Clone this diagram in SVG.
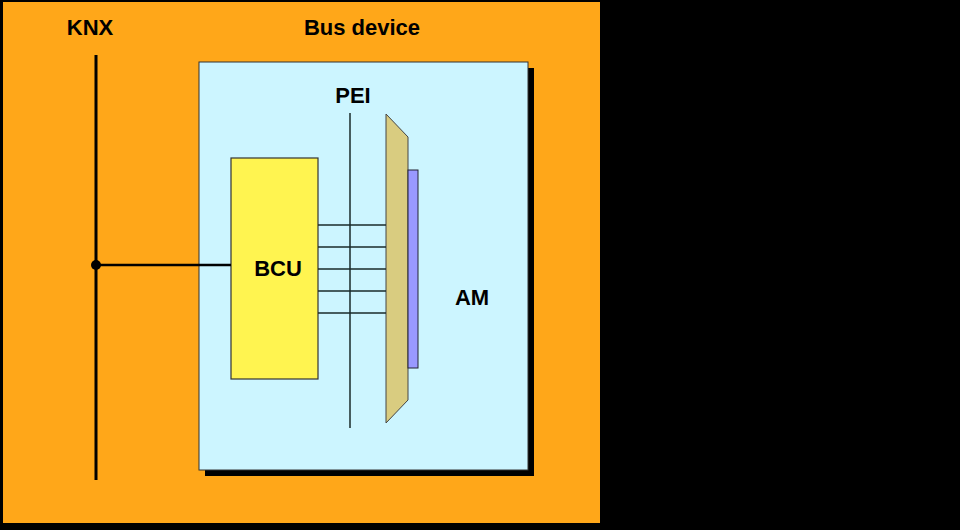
<svg xmlns="http://www.w3.org/2000/svg" width="960" height="530" viewBox="0 0 960 530">
<style>
text{font-family:"Liberation Sans",Arial,sans-serif;font-weight:bold;font-size:22px;fill:#000}
.ln{stroke:#1a2a2a;stroke-width:1.5;fill:none}
</style>
<rect width="960" height="530" fill="#000"/>
<rect x="3" y="2" width="597" height="521" fill="#FFA719"/>
<text x="90" y="35" text-anchor="middle">KNX</text>
<text x="362" y="35" text-anchor="middle">Bus device</text>
<g id="device">
<rect x="205" y="68" width="329" height="408" fill="#000"/>
<rect x="199" y="62" width="329" height="408" fill="#CCF5FF" stroke="#333" stroke-width="1"/>
</g>
<g id="knx"><line x1="96" y1="55" x2="96" y2="480" stroke="#000" stroke-width="3"/></g>
<g id="pei">
<line x1="350" y1="113" x2="350" y2="428" class="ln"/>
<text x="353" y="103" text-anchor="middle">PEI</text>
</g>
<g id="bcu">
<rect x="231" y="158" width="87" height="221" fill="#FFF450" stroke="#333" stroke-width="1.2"/>
<text x="278" y="276" text-anchor="middle">BCU</text>
</g>
<g id="am">
<polygon points="386,114 408,137 408,400 386,423" fill="#D9CC80" stroke="#444" stroke-width="1"/>
<rect x="408" y="170" width="10" height="198" fill="#9999FF" stroke="#223" stroke-width="1"/>
<text x="472" y="305" text-anchor="middle">AM</text>
</g>
<g id="connectors">
<line x1="96" y1="265" x2="231" y2="265" stroke="#000" stroke-width="2.5"/>
<circle cx="96" cy="265" r="5" fill="#000"/>
<g class="ln">
<line x1="318" y1="225" x2="386" y2="225"/>
<line x1="318" y1="247" x2="386" y2="247"/>
<line x1="318" y1="269" x2="386" y2="269"/>
<line x1="318" y1="291" x2="386" y2="291"/>
<line x1="318" y1="313" x2="386" y2="313"/>
</g>
</g>
</svg>
